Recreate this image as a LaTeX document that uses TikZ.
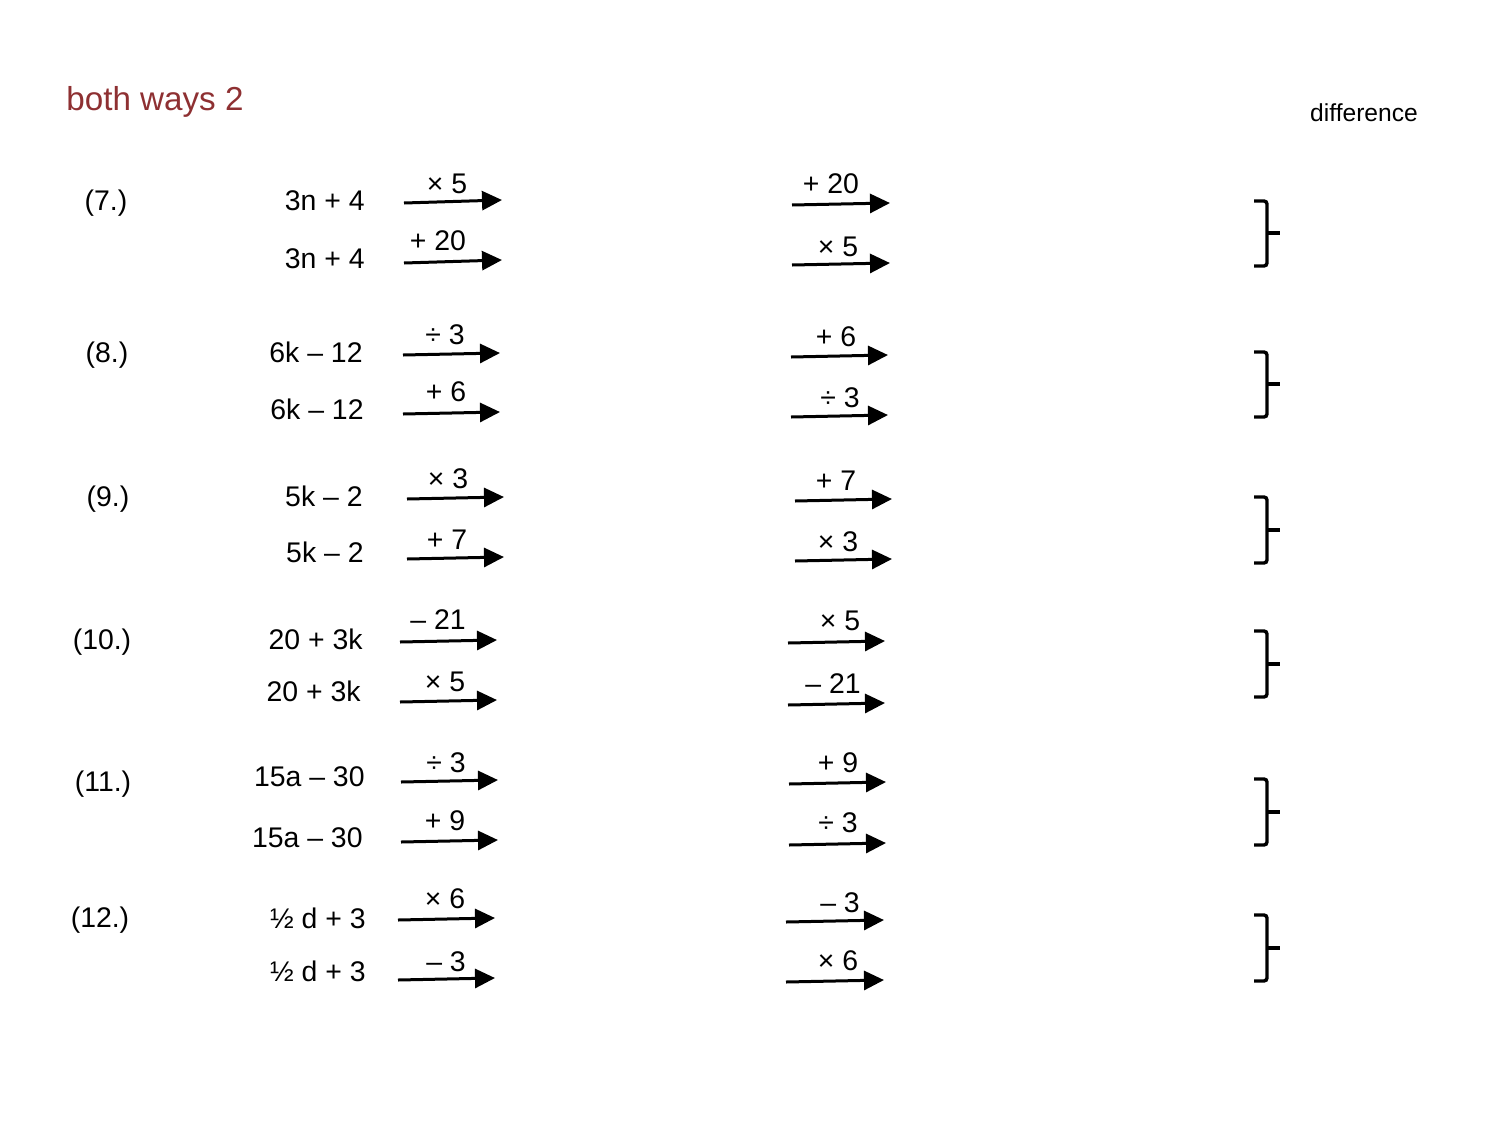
\documentclass[tikz,border=0pt]{standalone}
\usepackage{fontspec}
\setmainfont{Liberation Sans}
\usetikzlibrary{arrows.meta}
\definecolor{titlered}{HTML}{8E3032}
\tikzset{
  txt/.style={inner sep=0pt, font=\fontsize{14.2pt}{17pt}\selectfont},
  expr/.style={txt, anchor=base east},
  rowlab/.style={txt, anchor=base},
  oplab/.style={txt, anchor=base},
  oparr/.style={line width=1.5pt, -{Triangle[length=10pt,width=9.5pt]}},
  brk/.style={line width=1.7pt, rounded corners=1.5pt},
}
\newcommand\oparrow[8]{%
  \coordinate (#1s) at (#2,#3);
  \coordinate (#1e) at (#4,#5);
  \draw[oparr] (#1s) -- (#1e);
  \node[oplab] (#1l) at (#7,#8) {#6};
}
\newcommand\rowbrace[4]{%
  \coordinate (#1t) at (1254,#2);
  \coordinate (#1b) at (1254,#3);
  \coordinate (#1m) at (1267,#4);
  \coordinate (#1x) at (1280,#4);
  \draw[brk] (#1t) -- (1267,#2) -- (1267,#3) -- (#1b);
  \draw[line width=1.7pt] (#1m) -- (#1x);
}
\begin{document}
\begin{tikzpicture}[x=0.5pt,y=-0.5pt]
\useasboundingbox (0,0) rectangle (1500,1125);
\node[anchor=base west, inner sep=0pt, text=titlered, font=\fontsize{16.6pt}{19pt}\selectfont] (title) at (66,110) {both ways 2};
\node[anchor=base, inner sep=0pt, font=\fontsize{12.3pt}{14pt}\selectfont] (diff) at (1364,121) {difference};

% row labels
\node[rowlab] (r7) at (106,210) {(7.)};
\node[rowlab] (r8) at (107,362) {(8.)};
\node[rowlab] (r9) at (108,506) {(9.)};
\node[rowlab] (r10) at (102,649) {(10.)};
\node[rowlab] (r11) at (103,791) {(11.)};
\node[rowlab] (r12) at (100,927) {(12.)};

% expressions
\node[expr] (e7a) at (365,210) {3n + 4};
\node[expr] (e7b) at (365,268) {3n + 4};
\node[expr] (e8a) at (363,362) {6k – 12};
\node[expr] (e8b) at (364,419) {6k – 12};
\node[expr] (e9a) at (363,506) {5k – 2};
\node[expr] (e9b) at (364,562) {5k – 2};
\node[expr] (e10a) at (363,649) {20 + 3k};
\node[expr] (e10b) at (361,701) {20 + 3k};
\node[expr] (e11a) at (365,786) {15a – 30};
\node[expr] (e11b) at (363,847) {15a – 30};
\node[expr] (e12a) at (366,928) {½ d + 3};
\node[expr] (e12b) at (366,981) {½ d + 3};

% left arrows
\oparrow{l7a}{404}{203}{502}{200}{× 5}{447}{193}
\oparrow{l7b}{404}{263}{502}{260}{+ 20}{438}{250}
\oparrow{l8a}{403}{355}{500}{353}{÷ 3}{445}{344}
\oparrow{l8b}{403}{414}{500}{412}{+ 6}{446}{401}
\oparrow{l9a}{407}{499}{504}{497}{× 3}{448}{488}
\oparrow{l9b}{407}{559}{504}{557}{+ 7}{447}{549}
\oparrow{l10a}{400}{642}{497}{640}{– 21}{438}{629}
\oparrow{l10b}{400}{702}{497}{700}{× 5}{445}{691}
\oparrow{l11a}{401}{782}{498}{780}{÷ 3}{446}{772}
\oparrow{l11b}{401}{842}{498}{840}{+ 9}{445}{830}
\oparrow{l12a}{398}{920}{495}{918}{× 6}{445}{908}
\oparrow{l12b}{398}{980}{495}{978}{– 3}{446}{971}

% right arrows
\oparrow{m7a}{792}{205}{890}{203}{+ 20}{831}{193}
\oparrow{m7b}{792}{265}{890}{263}{× 5}{838}{256}
\oparrow{m8a}{791}{357}{888}{355}{+ 6}{836}{346}
\oparrow{m8b}{791}{417}{888}{415}{÷ 3}{840}{407}
\oparrow{m9a}{795}{501}{892}{499}{+ 7}{836}{490}
\oparrow{m9b}{795}{561}{892}{559}{× 3}{838}{551}
\oparrow{m10a}{788}{643}{885}{641}{× 5}{840}{630}
\oparrow{m10b}{788}{705}{885}{703}{– 21}{833}{693}
\oparrow{m11a}{789}{784}{886}{782}{+ 9}{838}{772}
\oparrow{m11b}{789}{845}{886}{843}{÷ 3}{838}{832}
\oparrow{m12a}{786}{922}{884}{920}{– 3}{840}{912}
\oparrow{m12b}{786}{982}{884}{980}{× 6}{838}{970}

% braces
\rowbrace{b7}{201}{266}{233}
\rowbrace{b8}{352}{417}{384}
\rowbrace{b9}{497}{563}{530}
\rowbrace{b10}{631}{697}{664}
\rowbrace{b11}{779}{845}{812}
\rowbrace{b12}{915}{981}{948}
\end{tikzpicture}
\end{document}
